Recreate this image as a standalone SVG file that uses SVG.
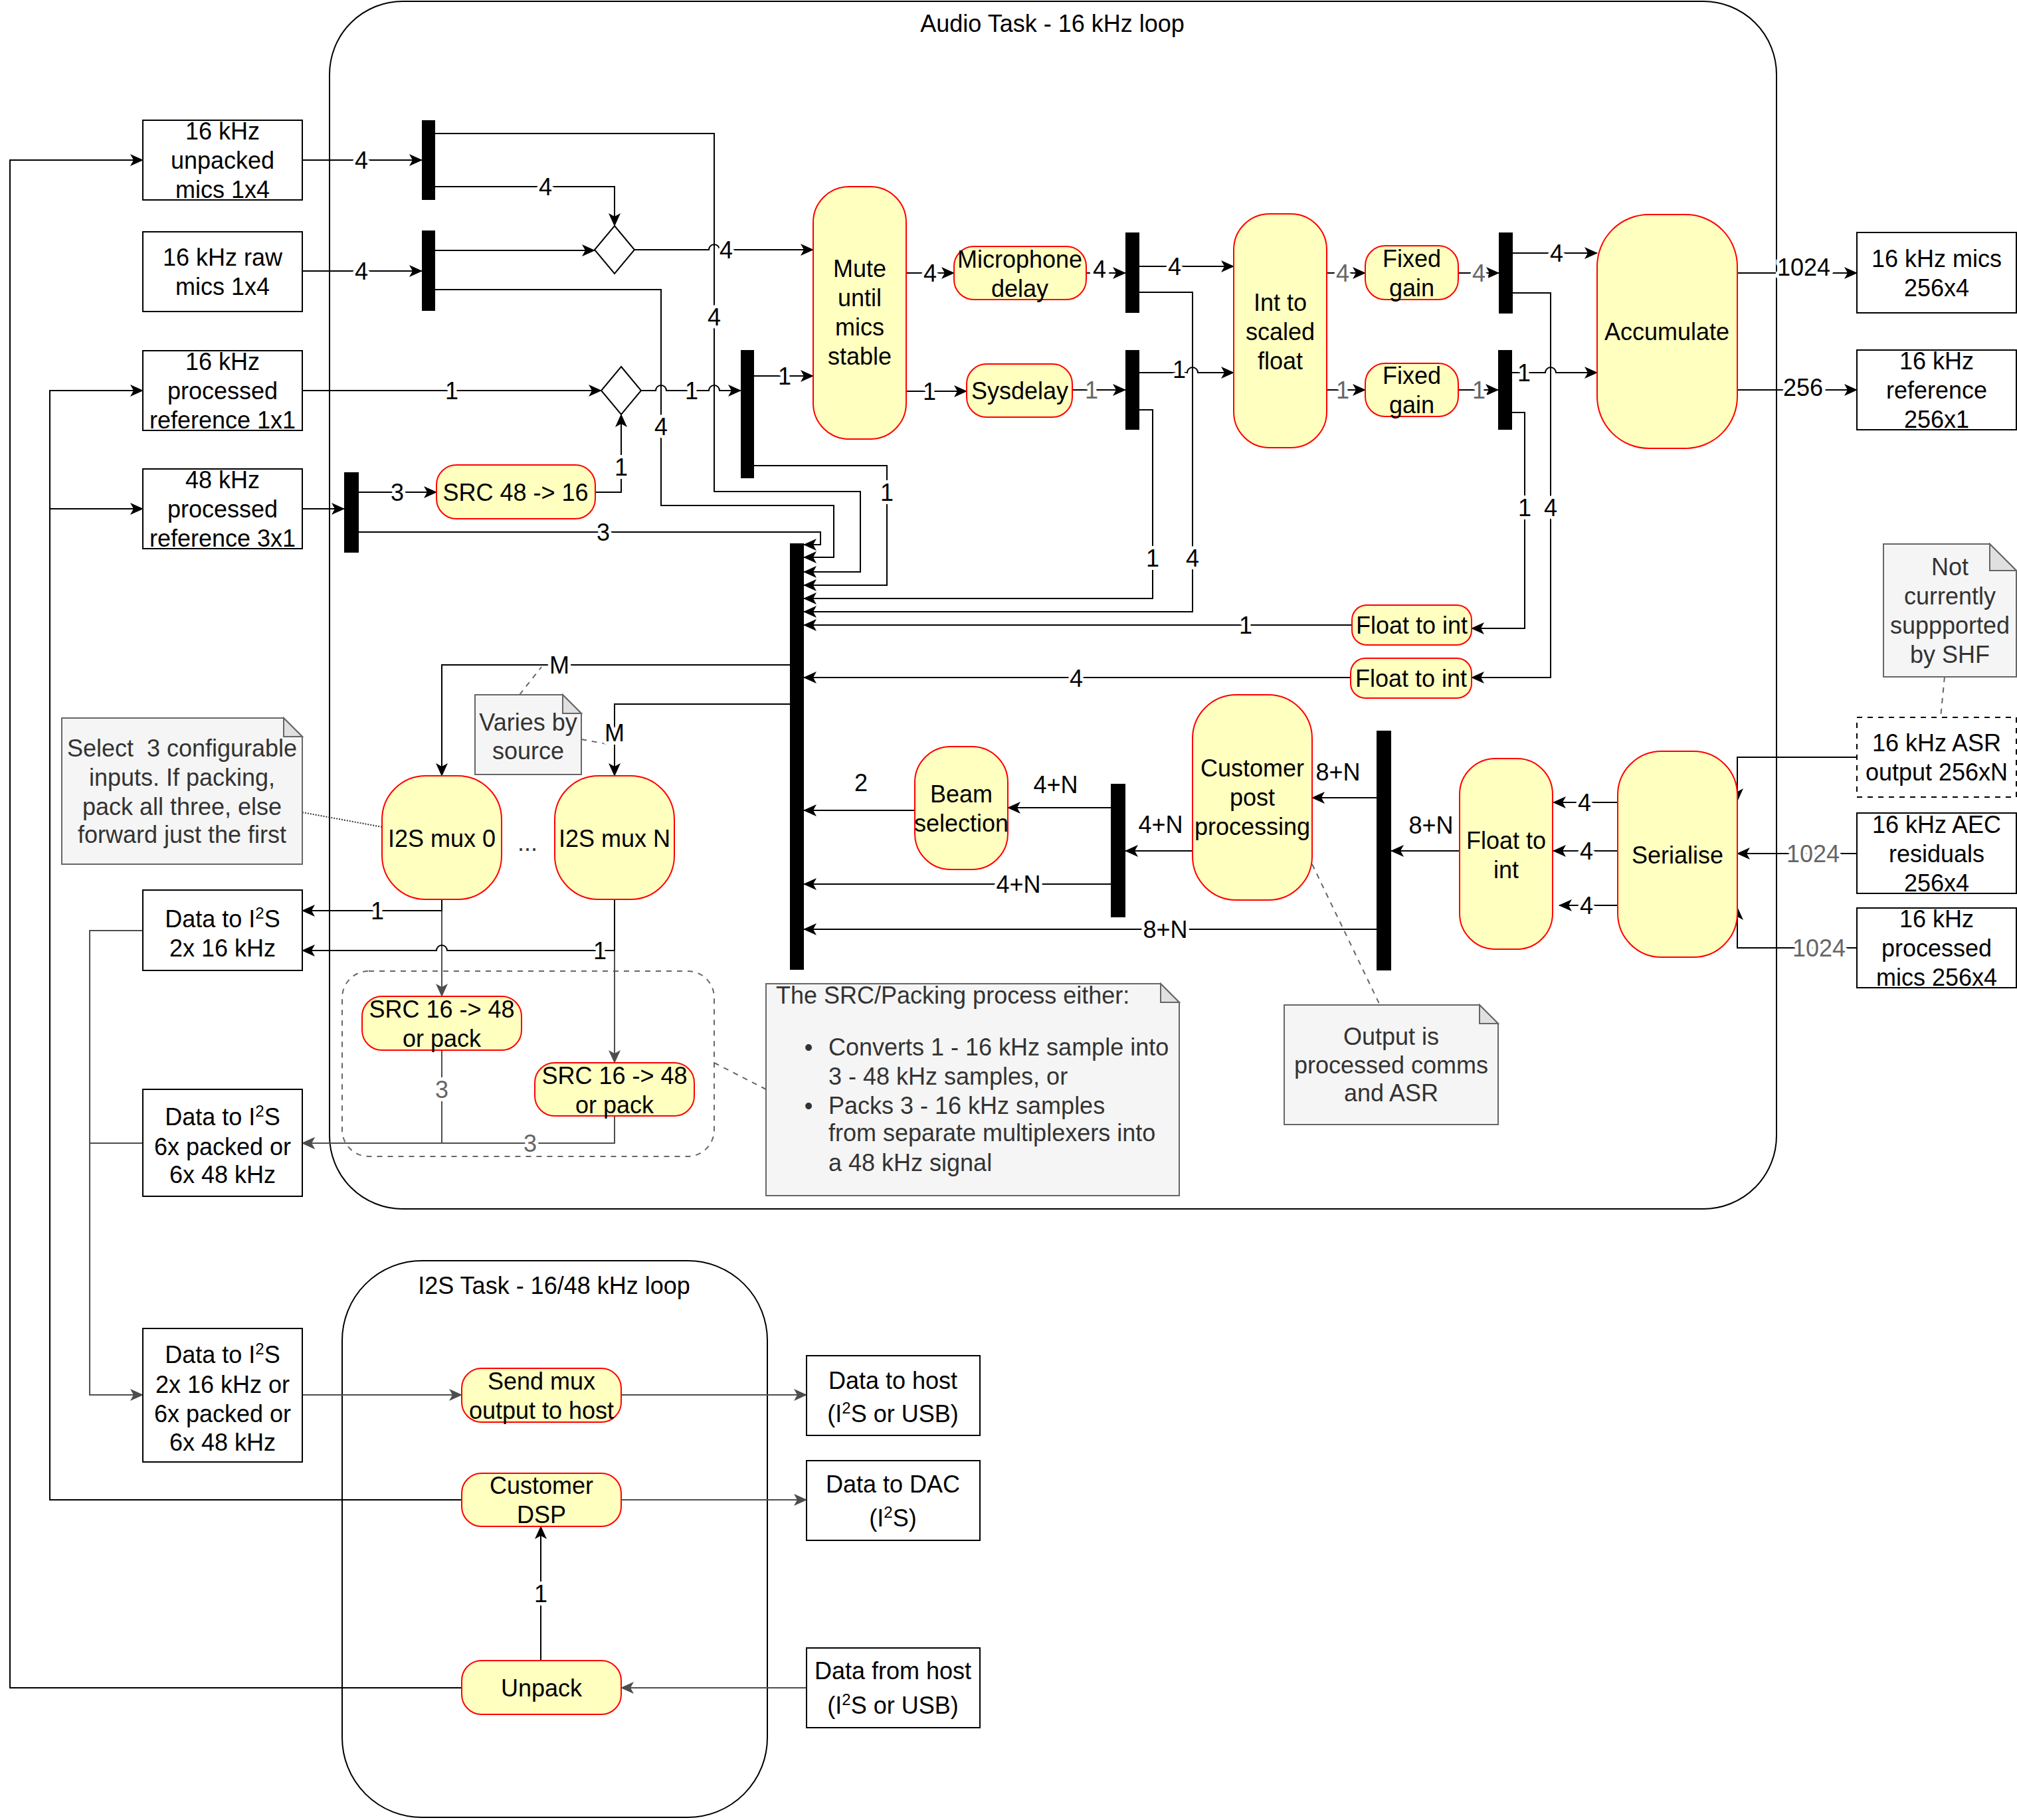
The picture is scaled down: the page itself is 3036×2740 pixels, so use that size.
<svg xmlns="http://www.w3.org/2000/svg" width="3036" height="2740" viewBox="0 0 3036 2740">
<defs>
<style>
.c{fill:none;stroke:#000;stroke-width:2}
.n{fill:#ffffc0;stroke:#ff0000;stroke-width:2}
.b{fill:#fff;stroke:#000;stroke-width:2}
.bd{fill:#fff;stroke:#000;stroke-width:2;stroke-dasharray:8,8}
.bar{fill:#000}
.note{fill:#f5f5f5;stroke:#666;stroke-width:2}
.fold{fill:#e0e0e0;stroke:#666;stroke-width:2}
.dia{fill:#fff;stroke:#000;stroke-width:2}
.e{fill:none;stroke:#000;stroke-width:2;marker-end:url(#a)}
.en{fill:none;stroke:#000;stroke-width:2}
.eg{fill:none;stroke:#4d4d4d;stroke-width:2;marker-end:url(#ag)}
.egn{fill:none;stroke:#4d4d4d;stroke-width:2}
.lk{fill:none;stroke:#666;stroke-width:2;stroke-dasharray:8,8}
.ld{fill:none;stroke:#333;stroke-width:2;stroke-dasharray:2,2}
.grp{fill:none;stroke:#666;stroke-width:2;stroke-dasharray:8,8}
text{font-family:"Liberation Sans",Arial,sans-serif;font-size:36px;text-anchor:middle;fill:#000}
.nt{fill:#333}
.l{paint-order:stroke;stroke:#fff;stroke-width:10px;stroke-linejoin:round}
.lg{fill:#666;paint-order:stroke;stroke:#fff;stroke-width:10px;stroke-linejoin:round}
</style>
<marker id="a" viewBox="0 0 20 20" markerWidth="20" markerHeight="20" refX="19" refY="10" orient="auto" markerUnits="userSpaceOnUse"><path d="M0,1 L20,10 L0,19 L5,10 Z" fill="#000"/></marker>
<marker id="ag" viewBox="0 0 20 20" markerWidth="20" markerHeight="20" refX="19" refY="10" orient="auto" markerUnits="userSpaceOnUse"><path d="M0,1 L20,10 L0,19 L5,10 Z" fill="#4d4d4d"/></marker>
</defs>
<rect width="3036" height="2740" fill="#fff"/>

<g id="audio-task">
<rect x="496" y="2" width="2178" height="1818" rx="110" ry="110" class="c"/>
<text x="1584" y="48">Audio Task - 16 kHz loop</text>
</g>
<g id="i2s-task">
<rect x="515" y="1898" width="640" height="838" rx="120" ry="120" class="c"/>
<text x="834" y="1948">I2S Task - 16/48 kHz loop</text>
</g>
<g id="src-group">
<rect x="515" y="1462" width="560" height="279" rx="40" ry="40" class="grp"/>
</g>

<g id="connectors">
<path class="e" d="M455,241 H635"/>
<path class="e" d="M455,408 H635"/>
<path class="e" d="M455,588 H905"/>
<path class="e" d="M455,766 H518"/>
<path class="e" d="M655,201 H1075 V740 H1295 V861 H1210"/>
<path class="e" d="M655,281 H925 V340"/>
<path class="e" d="M655,377 H895"/>
<path class="e" d="M955,376 H1067 A8,8 0 0 1 1083,376 H1224"/>
<path class="e" d="M655,436 H995 V761 H1255 V839 H1210"/>
<path class="e" d="M965,588 H987 A8,8 0 0 1 1003,588 H1067 A8,8 0 0 1 1083,588 H1115"/>
<path class="e" d="M540,741 H657"/>
<path class="e" d="M896,741 H935 V624"/>
<path class="e" d="M540,801 H1235 V820 H1210"/>
<path class="e" d="M1135,566 H1224"/>
<path class="e" d="M1135,701 H1335 V881 H1210"/>
<path class="e" d="M1364,411 H1436"/>
<path class="e" d="M1364,589 H1455"/>
<path class="e" d="M1635,411 H1694"/>
<path class="e" d="M1614,587 H1694"/>
<path class="e" d="M1715,401 H1857"/>
<path class="e" d="M1715,561 H1787 A8,8 0 0 1 1803,561 H1857"/>
<path class="e" d="M1715,617 H1735 V901 H1210"/>
<path class="e" d="M1715,440 H1795 V921 H1210"/>
<path class="e" d="M1997,411 H2055"/>
<path class="e" d="M1997,587 H2055"/>
<path class="e" d="M2195,411 H2256"/>
<path class="e" d="M2195,587 H2255"/>
<path class="e" d="M2277,381 H2404"/>
<path class="e" d="M2276,561 H2326 A8,8 0 0 1 2342,561 H2404"/>
<path class="e" d="M2277,441 H2334 V1020 H2215"/>
<path class="e" d="M2276,621 H2295 V946 H2215"/>
<path class="e" d="M2615,411 H2795"/>
<path class="e" d="M2615,587 H2795"/>
<path class="e" d="M2035,941 H1210"/>
<path class="e" d="M2033,1020 H1210"/>
<path class="e" d="M2795,1140 H2615 V1206"/>
<path class="e" d="M2795,1285 H2615"/>
<path class="e" d="M2795,1427 H2615 V1366"/>
<path class="e" d="M2435,1208 H2338"/>
<path class="e" d="M2435,1281 H2338"/>
<path class="e" d="M2435,1363 H2347"/>
<path class="e" d="M2197,1281 H2094"/>
<path class="e" d="M2072,1201 H1975"/>
<path class="e" d="M2072,1399 H1210"/>
<path class="e" d="M1795,1281 H1694"/>
<path class="e" d="M1672,1216 H1517"/>
<path class="e" d="M1672,1331 H1210"/>
<path class="e" d="M1377,1220 H1210"/>
<path class="e" d="M1189,1001 H665 V1168"/>
<path class="e" d="M1189,1060 H925 V1168"/>
<path class="eg" d="M665,1354 V1500"/>
<path class="eg" d="M925,1354 V1600"/>
<path class="e" d="M665,1354 V1371 H455"/>
<path class="e" d="M925,1354 V1431 H673 A8,8 0 0 0 657,1431 H455"/>
<path class="eg" d="M665,1581 V1721 H455"/>
<path class="eg" d="M925,1680 V1721 H455"/>
<path class="eg" d="M215,1401 H135 V2100 H215"/>
<path class="egn" d="M215,1721 H135"/>
<path class="eg" d="M455,2100 H695"/>
<path class="eg" d="M935,2100 H1214"/>
<path class="eg" d="M935,2258 H1214"/>
<path class="eg" d="M1214,2541 H935"/>
<path class="e" d="M814,2500 V2298"/>
<path class="e" d="M695,2541 H15 V241 H215"/>
<path class="e" d="M695,2258 H75 V588 H215"/>
<path class="e" d="M75,766 H215"/>
<path class="lk" d="M782,1046 L815,1004"/>
<path class="lk" d="M875,1113 L918,1121"/>
<path class="ld" d="M455,1223 L575,1245"/>
<path class="lk" d="M1075,1600 L1153,1640"/>
<path class="lk" d="M1975,1301 L2077,1513"/>
<path class="lk" d="M2927,1019 L2921,1080"/>

<text class="l" x="544" y="254">4</text>
<text class="l" x="544" y="421">4</text>
<text class="l" x="821" y="294">4</text>
<text class="l" x="1093" y="389">4</text>
<text class="l" x="1075" y="490">4</text>
<text class="l" x="995" y="655">4</text>
<text class="l" x="680" y="601">1</text>
<text class="l" x="1041" y="601">1</text>
<text class="l" x="598" y="754">3</text>
<text class="l" x="935" y="716">1</text>
<text class="l" x="908" y="814">3</text>
<text class="l" x="1181" y="579">1</text>
<text class="l" x="1335" y="754">1</text>
<text class="l" x="1400" y="424">4</text>
<text class="l" x="1399" y="602">1</text>
<text class="l" x="1655" y="418">4</text>
<text class="lg" x="1643" y="600">1</text>
<text class="l" x="1768" y="414">4</text>
<text class="l" x="1775" y="569">1</text>
<text class="l" x="1735" y="853">1</text>
<text class="l" x="1795" y="853">4</text>
<text class="lg" x="2021" y="424">4</text>
<text class="lg" x="2021" y="600">1</text>
<text class="lg" x="2226" y="424">4</text>
<text class="lg" x="2226" y="600">1</text>
<text class="l" x="2343" y="394">4</text>
<text class="l" x="2294" y="574">1</text>
<text class="l" x="2295" y="777">1</text>
<text class="l" x="2334" y="777">4</text>
<text class="l" x="2715" y="415">1024</text>
<text class="l" x="2714" y="596">256</text>
<text class="l" x="1875" y="954">1</text>
<text class="l" x="1620" y="1034">4</text>
<text class="l" x="842" y="1014">M</text>
<text class="l" x="925" y="1116">M</text>
<text class="l" x="1296" y="1191">2</text>
<text class="l" x="1589" y="1194">4+N</text>
<text class="l" x="1747" y="1254">4+N</text>
<text class="l" x="1533" y="1344">4+N</text>
<text class="l" x="1754" y="1412">8+N</text>
<text class="l" x="2014" y="1175">8+N</text>
<text class="l" x="2154" y="1255">8+N</text>
<text class="l" x="2385" y="1221">4</text>
<text class="l" x="2388" y="1294">4</text>
<text class="l" x="2388" y="1376">4</text>
<text class="lg" x="2729" y="1298">1024</text>
<text class="lg" x="2738" y="1440">1024</text>
<text class="l" x="568" y="1384">1</text>
<text class="l" x="903" y="1444">1</text>
<text class="lg" x="665" y="1653">3</text>
<text class="lg" x="798" y="1734">3</text>
<text class="l" x="814" y="2412">1</text>
</g>

<g id="in-unpacked"><rect class="b" x="215" y="181" width="240" height="120"/><text x="335" y="210">16 kHz</text><text x="335" y="254">unpacked</text><text x="335" y="298">mics 1x4</text></g>
<g id="in-raw"><rect class="b" x="215" y="349" width="240" height="120"/><text x="335" y="400">16 kHz raw</text><text x="335" y="444">mics 1x4</text></g>
<g id="in-ref1"><rect class="b" x="215" y="528" width="240" height="120"/><text x="335" y="557">16 kHz</text><text x="335" y="601">processed</text><text x="335" y="645">reference 1x1</text></g>
<g id="in-ref3"><rect class="b" x="215" y="706" width="240" height="120"/><text x="335" y="735">48 kHz</text><text x="335" y="779">processed</text><text x="335" y="823">reference 3x1</text></g>

<g id="bar1"><rect class="bar" x="635" y="181" width="20" height="120"/></g>
<g id="bar2"><rect class="bar" x="635" y="347" width="20" height="121"/></g>
<g id="bar3"><rect class="bar" x="518" y="711" width="22" height="121"/></g>
<g id="bar-ref"><rect class="bar" x="1115" y="527" width="20" height="193"/></g>
<g id="bar-mux"><rect class="bar" x="1189" y="818" width="21" height="642"/></g>
<g id="bar4"><rect class="bar" x="1694" y="350" width="21" height="121"/></g>
<g id="bar5"><rect class="bar" x="1694" y="527" width="21" height="120"/></g>
<g id="bar6"><rect class="bar" x="2256" y="350" width="21" height="122"/></g>
<g id="bar7"><rect class="bar" x="2255" y="527" width="21" height="120"/></g>
<g id="bar-4n"><rect class="bar" x="1672" y="1180" width="22" height="201"/></g>
<g id="bar-8n"><rect class="bar" x="2072" y="1100" width="22" height="361"/></g>

<g id="diamond1"><path class="dia" d="M925,340 L955,376 L925,412 L895,376 Z"/></g>
<g id="diamond2"><path class="dia" d="M935,552 L965,588 L935,624 L905,588 Z"/></g>

<g id="src48"><rect class="n" x="657" y="700" width="239" height="81" rx="30" ry="30"/><text x="776" y="754">SRC 48 -&gt; 16</text></g>
<g id="mute"><rect class="n" x="1224" y="281" width="140" height="380" rx="54" ry="54"/><text x="1294" y="417">Mute</text><text x="1294" y="461">until</text><text x="1294" y="505">mics</text><text x="1294" y="549">stable</text></g>
<g id="micdelay"><rect class="n" x="1436" y="371" width="199" height="80" rx="30" ry="30"/><text x="1535" y="403">Microphone</text><text x="1535" y="447">delay</text></g>
<g id="sysdelay"><rect class="n" x="1455" y="548" width="159" height="80" rx="30" ry="30"/><text x="1535" y="601">Sysdelay</text></g>
<g id="inttofloat"><rect class="n" x="1857" y="322" width="140" height="352" rx="54" ry="54"/><text x="1927" y="468">Int to</text><text x="1927" y="512">scaled</text><text x="1927" y="556">float</text></g>
<g id="gain1"><rect class="n" x="2055" y="370" width="140" height="81" rx="30" ry="30"/><text x="2125" y="402">Fixed</text><text x="2125" y="446">gain</text></g>
<g id="gain2"><rect class="n" x="2055" y="547" width="140" height="80" rx="30" ry="30"/><text x="2125" y="578">Fixed</text><text x="2125" y="622">gain</text></g>
<g id="accumulate"><rect class="n" x="2404" y="323" width="211" height="352" rx="78" ry="78"/><text x="2509" y="512">Accumulate</text></g>
<g id="floattoint1"><rect class="n" x="2035" y="911" width="180" height="60" rx="22" ry="22"/><text x="2125" y="954">Float to int</text></g>
<g id="floattoint4"><rect class="n" x="2033" y="991" width="182" height="60" rx="22" ry="22"/><text x="2124" y="1034">Float to int</text></g>
<g id="serialise"><rect class="n" x="2435" y="1131" width="180" height="310" rx="66" ry="66"/><text x="2525" y="1300">Serialise</text></g>
<g id="floattoint-big"><rect class="n" x="2197" y="1142" width="140" height="287" rx="54" ry="54"/><text x="2267" y="1278">Float to</text><text x="2267" y="1322">int</text></g>
<g id="cpp"><rect class="n" x="1795" y="1046" width="180" height="309" rx="66" ry="66"/><text x="1885" y="1169">Customer</text><text x="1885" y="1213">post</text><text x="1885" y="1257">processing</text></g>
<g id="beam"><rect class="n" x="1377" y="1124" width="140" height="185" rx="54" ry="54"/><text x="1447" y="1208">Beam</text><text x="1447" y="1252">selection</text></g>
<g id="mux0"><rect class="n" x="575" y="1168" width="180" height="186" rx="66" ry="66"/><text x="665" y="1275">I2S mux 0</text></g>
<g id="muxN"><rect class="n" x="835" y="1168" width="180" height="186" rx="66" ry="66"/><text x="925" y="1275">I2S mux N</text></g>
<g id="dots"><text class="nt" x="794" y="1281">...</text></g>
<g id="src-a"><rect class="n" x="545" y="1500" width="240" height="81" rx="30" ry="30"/><text x="665" y="1532">SRC 16 -&gt; 48</text><text x="665" y="1576">or pack</text></g>
<g id="src-b"><rect class="n" x="805" y="1600" width="240" height="80" rx="30" ry="30"/><text x="925" y="1632">SRC 16 -&gt; 48</text><text x="925" y="1676">or pack</text></g>

<g id="out-mics"><rect class="b" x="2795" y="350" width="240" height="121"/><text x="2915" y="402">16 kHz mics</text><text x="2915" y="446">256x4</text></g>
<g id="out-ref"><rect class="b" x="2795" y="527" width="240" height="120"/><text x="2915" y="556">16 kHz</text><text x="2915" y="600">reference</text><text x="2915" y="644">256x1</text></g>
<g id="in-asr"><rect class="bd" x="2795" y="1080" width="240" height="120"/><text x="2915" y="1131">16 kHz ASR</text><text x="2915" y="1175">output 256xN</text></g>
<g id="in-aec"><rect class="b" x="2795" y="1224" width="240" height="121"/><text x="2915" y="1254">16 kHz AEC</text><text x="2915" y="1298">residuals</text><text x="2915" y="1342">256x4</text></g>
<g id="in-procmics"><rect class="b" x="2795" y="1367" width="240" height="120"/><text x="2915" y="1396">16 kHz</text><text x="2915" y="1440">processed</text><text x="2915" y="1484">mics 256x4</text></g>

<g id="note-shf"><path class="note" d="M2835,819 H2995 L3035,859 V1019 H2835 Z"/><path class="fold" d="M2995,819 V859 H3035 Z"/><text class="nt" x="2935" y="866">Not</text><text class="nt" x="2935" y="910">currently</text><text class="nt" x="2935" y="954">suppported</text><text class="nt" x="2935" y="998">by SHF</text></g>
<g id="note-select"><path class="note" d="M93,1081 H427 L455,1109 V1301 H93 Z"/><path class="fold" d="M427,1081 V1109 H455 Z"/><text class="nt" x="274" y="1139" xml:space="preserve">Select  3 configurable</text><text class="nt" x="274" y="1183">inputs. If packing,</text><text class="nt" x="274" y="1227">pack all three, else</text><text class="nt" x="274" y="1269">forward just the first</text></g>
<g id="note-varies"><path class="note" d="M715,1046 H847 L875,1074 V1166 H715 Z"/><path class="fold" d="M847,1046 V1074 H875 Z"/><text class="nt" x="795" y="1100">Varies by</text><text class="nt" x="795" y="1143">source</text></g>
<g id="note-output"><path class="note" d="M1933,1513 H2227 L2255,1541 V1693 H1933 Z"/><path class="fold" d="M2227,1513 V1541 H2255 Z"/><text class="nt" x="2094" y="1573">Output is</text><text class="nt" x="2094" y="1616">processed comms</text><text class="nt" x="2094" y="1658">and ASR</text></g>
<g id="note-src"><path class="note" d="M1153,1481 H1747 L1775,1509 V1800 H1153 Z"/><path class="fold" d="M1747,1481 V1509 H1775 Z"/>
<text class="nt" x="1168" y="1511" style="text-anchor:start">The SRC/Packing process either:</text>
<text class="nt" x="1217" y="1589">•</text>
<text class="nt" x="1247" y="1589" style="text-anchor:start">Converts 1 - 16 kHz sample into</text>
<text class="nt" x="1247" y="1633" style="text-anchor:start">3 - 48 kHz samples, or</text>
<text class="nt" x="1217" y="1677">•</text>
<text class="nt" x="1247" y="1677" style="text-anchor:start">Packs 3 - 16 kHz samples</text>
<text class="nt" x="1247" y="1718" style="text-anchor:start">from separate multiplexers into</text>
<text class="nt" x="1247" y="1763" style="text-anchor:start">a 48 kHz signal</text>
</g>

<g id="data-i2s-2x"><rect class="b" x="215" y="1340" width="240" height="121"/><text x="335" y="1396">Data to I<tspan baseline-shift="super" font-size="24">2</tspan>S</text><text x="335" y="1440">2x 16 kHz</text></g>
<g id="data-i2s-6x"><rect class="b" x="215" y="1640" width="240" height="161"/><text x="335" y="1694">Data to I<tspan baseline-shift="super" font-size="24">2</tspan>S</text><text x="335" y="1739">6x packed or</text><text x="335" y="1781">6x 48 kHz</text></g>
<g id="data-i2s-all"><rect class="b" x="215" y="2000" width="240" height="201"/><text x="335" y="2052">Data to I<tspan baseline-shift="super" font-size="24">2</tspan>S</text><text x="335" y="2097">2x 16 kHz or</text><text x="335" y="2141">6x packed or</text><text x="335" y="2184">6x 48 kHz</text></g>

<g id="sendmux"><rect class="n" x="695" y="2060" width="240" height="81" rx="30" ry="30"/><text x="815" y="2092">Send mux</text><text x="815" y="2136">output to host</text></g>
<g id="customer-dsp"><rect class="n" x="695" y="2218" width="240" height="80" rx="30" ry="30"/><text x="815" y="2249">Customer</text><text x="815" y="2293">DSP</text></g>
<g id="unpack"><rect class="n" x="695" y="2500" width="240" height="81" rx="30" ry="30"/><text x="815" y="2554">Unpack</text></g>

<g id="data-to-host"><rect class="b" x="1214" y="2041" width="261" height="120"/><text x="1344" y="2091">Data to host</text><text x="1344" y="2141">(I<tspan baseline-shift="super" font-size="24">2</tspan>S or USB)</text></g>
<g id="data-to-dac"><rect class="b" x="1214" y="2199" width="261" height="120"/><text x="1344" y="2247">Data to DAC</text><text x="1344" y="2298">(I<tspan baseline-shift="super" font-size="24">2</tspan>S)</text></g>
<g id="data-from-host"><rect class="b" x="1214" y="2481" width="261" height="120"/><text x="1344" y="2528">Data from host</text><text x="1344" y="2580">(I<tspan baseline-shift="super" font-size="24">2</tspan>S or USB)</text></g>
</svg>
